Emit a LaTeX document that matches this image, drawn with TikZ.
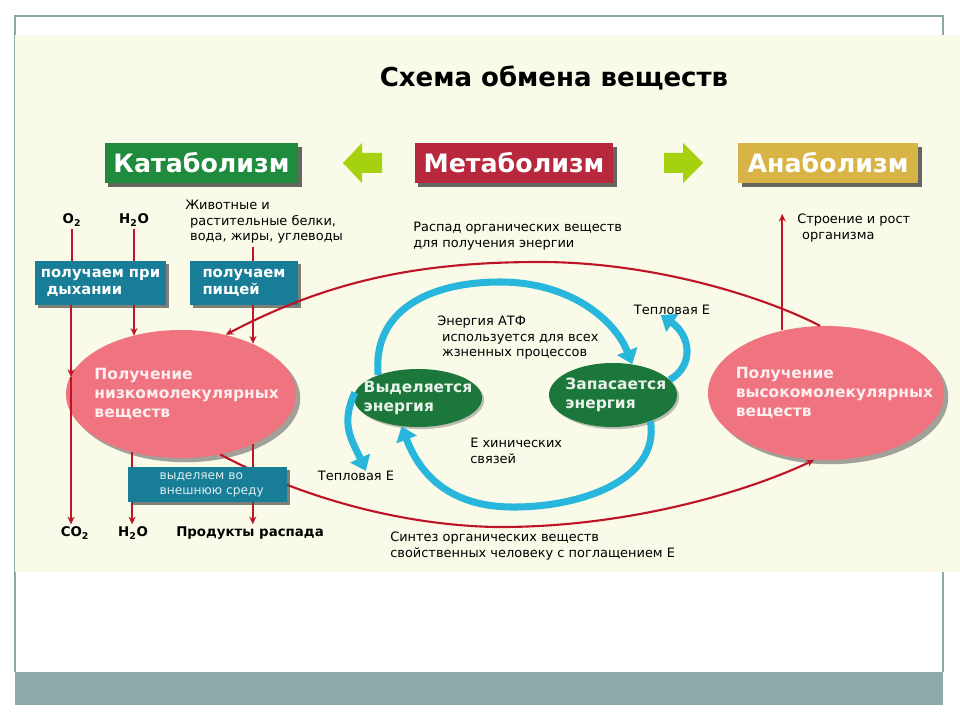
\documentclass[tikz,border=0pt]{standalone}
\usepackage{fontspec}
\setmainfont{DejaVu Sans}
\usetikzlibrary{arrows.meta,shadows,shapes.geometric,positioning}
\definecolor{cCream}{RGB}{250,250,232}
\definecolor{cFrame}{RGB}{140,170,170}
\definecolor{cKat}{RGB}{30,140,60}
\definecolor{cMet}{RGB}{184,40,60}
\definecolor{cAna}{RGB}{216,180,70}
\definecolor{cLime}{RGB}{166,209,14}
\definecolor{cTeal}{RGB}{24,126,152}
\definecolor{cPink}{RGB}{240,115,128}
\definecolor{cGreen}{RGB}{28,120,58}
\definecolor{cCyan}{RGB}{40,182,220}
\definecolor{cRed}{RGB}{190,20,40}
\begin{document}
\begin{tikzpicture}[x=0.025cm,y=-0.025cm,>={Stealth[length=5.5pt,width=5pt]},
	hdrbox/.style={inner sep=0pt,minimum height=1cm,text=white,font=\bfseries\fontsize{18}{20}\selectfont,
		drop shadow={shadow xshift=2.5pt,shadow yshift=-2.5pt,fill=black!75,opacity=.8}},
	getbox/.style={fill=cTeal,inner sep=0pt,minimum height=1.1cm,align=left,text=white,
		font=\bfseries\fontsize{10.5}{12.5}\selectfont,
		drop shadow={shadow xshift=2pt,shadow yshift=-2pt,fill=black!70,opacity=.7}},
	bigel/.style={ellipse,fill=cPink,inner sep=0pt,
		drop shadow={shadow xshift=3pt,shadow yshift=-3pt,fill=black!60,opacity=.6}},
	bigtxt/.style={align=left,inner sep=0pt,text=white!88!cPink,font=\bfseries\fontsize{11}{13.5}\selectfont},
	energy/.style={ellipse,fill=cGreen,inner sep=0pt,
		drop shadow={shadow xshift=1.5pt,shadow yshift=-1.5pt,fill=black!50,opacity=.5}},
	entxt/.style={align=left,inner sep=0pt,text=white!90!cGreen,font=\bfseries\fontsize{11}{13.5}\selectfont},
	lbl/.style={font=\fontsize{9.2}{11}\selectfont,align=left,inner sep=0pt},
	chem/.style={font=\bfseries\fontsize{9.5}{11}\selectfont,inner sep=1.5pt},
	redline/.style={draw=cRed,line width=1.5pt},
	cyanarrow/.style={draw=cCyan,line width=5pt,-{Triangle[width=15pt,length=10pt]}}]
	\fill[white] (0,0) rectangle (960,720);
	\draw[cFrame,line width=0.8pt] (15,672) -- (15,16) -- (943,16) -- (943,672);
	\fill[cCream] (15,35) rectangle (960,572);
	\fill[cFrame] (15,672) rectangle (943,705);
	\node[font=\bfseries\fontsize{18.5}{22}\selectfont] (title) at (554,78) {Схема обмена веществ};
	\node[hdrbox,fill=cKat,minimum width=4.83cm] (kat) at (201.5,163) {Катаболизм};
	\node[hdrbox,fill=cMet,minimum width=4.95cm] (met) at (514,163) {Метаболизм};
	\node[hdrbox,fill=cAna,minimum width=4.5cm] (ana) at (828,163) {Анаболизм};
	\fill[cLime] (343,163) -- (362,143) -- (362,153) -- (382,153) -- (382,173) -- (362,173) -- (362,183) -- cycle;
	\fill[cLime] (703,163) -- (683,143) -- (683,153) -- (664,153) -- (664,173) -- (683,173) -- (683,183) -- cycle;
	\node[chem] (o2) at (72,220) {O\textsubscript{2}};
	\node[chem] (h2oT) at (134,220) {H\textsubscript{2}O};
	\node[lbl,anchor=west] (food) at (185,222) {Животные и\\\hspace*{3.5pt}растительные белки,\\\hspace*{3.5pt}вода, жиры, углеводы};
	\node[getbox,minimum width=3.28cm] (resp) at (100.5,283) {получаем при\\\hspace*{4pt}дыхании};
	\node[getbox,minimum width=2.7cm] (eat) at (244,283) {получаем\\пищей};
	\node[bigel,minimum width=5.75cm,minimum height=3.2cm] (lowE) at (181,394) {};
	\node[bigtxt] (lowT) at ([xshift=4pt]lowE) {Получение\\низкомолекулярных\\веществ};
	\node[bigel,minimum width=5.9cm,minimum height=3.35cm] (hiE) at (826,393) {};
	\node[bigtxt] (hiT) at ([xshift=6pt]hiE) {Получение\\высокомолекулярных\\веществ};
	\node[energy,minimum width=3.2cm,minimum height=1.45cm] (relE) at (418,398) {};
	\node[entxt] (relT) at (relE) {Выделяется\\энергия};
	\node[energy,minimum width=3.2cm,minimum height=1.6cm] (stoE) at (613,395) {};
	\node[entxt] (stoT) at ([xshift=2pt]stoE) {Запасается\\энергия};
	\node[lbl,anchor=west] (decay) at (413,236) {Распад органических веществ\\для получения энергии};
	\node[lbl,anchor=west] (grow) at (797,228) {Строение и рост\\\hspace*{3.5pt}организма};
	\node[lbl,anchor=west] (atp) at (437,338) {Энергия АТФ\\\hspace*{3.5pt}используется для всех\\\hspace*{3.5pt}жзненных процессов};
	\node[lbl,anchor=west] (bond) at (470,451) {Е хинических\\связей};
	\node[lbl] (heatL) at (356,476) {Тепловая Е};
	\node[lbl] (heatR) at (672,310) {Тепловая Е};
	\node[lbl,anchor=west] (synth) at (390,546) {Синтез органических веществ\\свойственных человеку с поглащением Е};
	\node[chem] (co2) at (75,533) {CO\textsubscript{2}};
	\node[chem] (h2oB) at (133,533) {H\textsubscript{2}O};
	\node[chem] (prod) at (250,533) {Продукты распада};
	\coordinate (o2mid) at (71,377);
	\coordinate (feed) at (253,247);
	\coordinate (topmid) at (540,262);
	\coordinate (botmid) at (495,527);
	\draw[redline] (o2) -- (o2 |- resp.north);
	\draw[redline,->] (resp.south -| o2mid) -- (o2mid);
	\draw[redline,->] (o2mid) -- (o2mid |- co2.north);
	\draw[redline] (h2oT) -- (h2oT |- resp.north);
	\draw[redline,->] (resp.south -| h2oT) -- (h2oT |- lowE.130);
	\draw[redline,->] (lowE.-130) -- (lowE.-130 |- h2oB.north);
	\draw[redline] (feed) -- (feed |- eat.north);
	\draw[redline,->] (eat.south -| feed) -- (feed |- lowE.35);
	\draw[redline,->] (lowE.-35) -- (lowE.-35 |- prod.north);
	\draw[redline,->] (hiE.95) .. controls (760,295) and (650,262) .. (topmid) .. controls (420,262) and (330,280) .. (lowE.53);
	\draw[redline,->] (lowE.-57) .. controls (300,497) and (400,525) .. (botmid) .. controls (620,528) and (740,495) .. (hiE.-100);
	\draw[redline,->] (hiE.125) -- (hiE.125 |- grow.north);
	\node[getbox,font=\fontsize{8.7}{10.5}\selectfont,text=white!85!cTeal,minimum width=3.98cm,minimum height=0.88cm] (out) at (207.5,484.5) {\hspace*{6pt}выделяем во\\\hspace*{6pt}внешнюю среду};
	\draw[cyanarrow] (relE.150) .. controls (372,310) and (430,282) .. (500,282) .. controls (570,282) and (615,320) .. (stoE.58);
	\draw[cyanarrow] (stoE.-35) .. controls (660,480) and (580,508) .. (510,507) .. controls (450,506) and (420,475) .. (relE.-120);
	\draw[cyanarrow] (relE.175) .. controls (340,425) and (352,440) .. ([xshift=7pt]heatL.north);
	\draw[cyanarrow] (stoE.15) .. controls (695,365) and (690,335) .. ([xshift=-8pt]heatR.south);
\end{tikzpicture}
\end{document}
